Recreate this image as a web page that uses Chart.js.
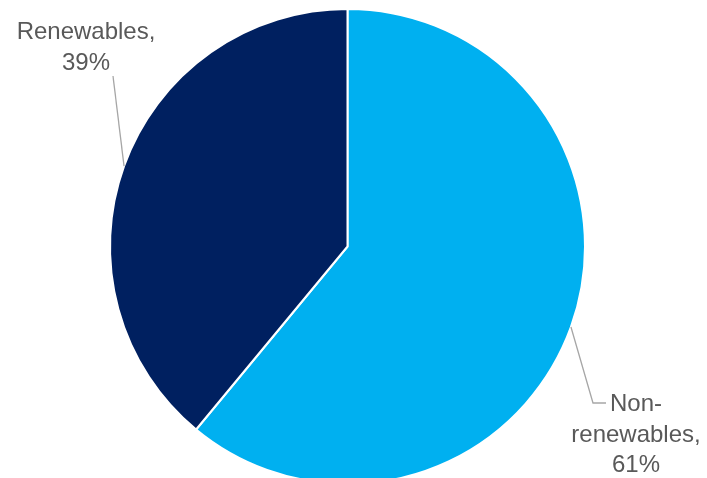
<!DOCTYPE html>
<html>
<head>
<meta charset="utf-8">
<script src="https://cdn.jsdelivr.net/npm/chart.js@4/dist/chart.umd.min.js"></script>
<style>
  html, body { margin: 0; padding: 0; background: #fff; overflow: hidden; }
  #wrap { position: relative; width: 707px; height: 490px; }
</style>
</head>
<body>
<div id="wrap"><canvas id="energyPie"></canvas></div>
<script>
// Share of energy mix
const categories = ['Non-renewables', 'Renewables'];
const shares = [61, 39];
const sliceColors = ['#00B0F0', '#002060'];

// Label text split into lines, and where each label block sits
const labelLines = [
    ['Non-', 'renewables,', shares[0] + '%'],
    [categories[1] + ',', shares[1] + '%']
];
const labelLayout = [
    { x: 636, y: 411, elbow: { x: 593, y: 403 }, end: { x: 606, y: 403 } },
    { x: 86, y: 39, elbow: null, end: { x: 113, y: 76 } }
];

const leaderLabels = {
    id: 'leaderLabels',
    afterDatasetsDraw(chart) {
        const ctx = chart.ctx;
        const arcs = chart.getDatasetMeta(0).data;
        ctx.save();
        arcs.forEach((arc, i) => {
            const p = arc.getProps(['x', 'y', 'startAngle', 'endAngle', 'outerRadius'], true);
            const mid = (p.startAngle + p.endAngle) / 2;
            const sx = p.x + Math.cos(mid) * p.outerRadius;
            const sy = p.y + Math.sin(mid) * p.outerRadius;
            const lay = labelLayout[i];

            ctx.strokeStyle = '#A6A6A6';
            ctx.lineWidth = 1.3;
            ctx.beginPath();
            ctx.moveTo(sx, sy);
            if (lay.elbow) ctx.lineTo(lay.elbow.x, lay.elbow.y);
            ctx.lineTo(lay.end.x, lay.end.y);
            ctx.stroke();

            ctx.fillStyle = '#595959';
            ctx.font = '24px "Liberation Sans", Arial, sans-serif';
            ctx.textAlign = 'center';
            ctx.textBaseline = 'alphabetic';
            labelLines[i].forEach((line, k) => {
                ctx.fillText(line, lay.x, lay.y + k * 30.5);
            });
        });
        ctx.restore();
    }
};

new Chart(document.getElementById('energyPie'), {
    type: 'pie',
    data: {
        labels: categories,
        datasets: [{
            data: shares,
            backgroundColor: sliceColors,
            borderColor: '#ffffff',
            borderWidth: 2
        }]
    },
    options: {
        responsive: true,
        maintainAspectRatio: false,
        animation: false,
        layout: { padding: { top: 8, bottom: 5, left: 109, right: 121 } },
        plugins: {
            legend: { display: false },
            tooltip: { enabled: false }
        }
    },
    plugins: [leaderLabels]
});
</script>
</body>
</html>
